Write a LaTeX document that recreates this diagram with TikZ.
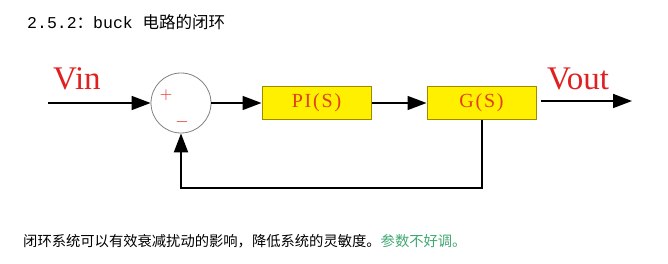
\documentclass[tikz,border=0pt]{standalone}
\usepackage{fontspec}
\setmainfont{Liberation Serif}
\newfontfamily\cjk{Noto Sans CJK SC}
\newfontfamily\monolatin{Liberation Mono}
\newfontfamily\blockfont[LetterSpace=9]{Liberation Serif}
\usetikzlibrary{arrows.meta}
\definecolor{boxfill}{HTML}{FFF000}
\definecolor{boxedge}{HTML}{A08A00}
\definecolor{boxtext}{HTML}{E2401A}
\definecolor{sigred}{HTML}{E02020}
\definecolor{notegreen}{HTML}{3FA870}
\tikzset{
  flow/.style={line width=1.6pt, -{Triangle[length=19pt,width=14pt]}},
  feedback/.style={line width=2pt, -{Triangle[length=19pt,width=14pt]}},
  block/.style={draw=boxedge, line width=1pt, fill=boxfill, minimum width=109pt,
    minimum height=33pt, inner sep=0pt, text=boxtext, font=\blockfont\fontsize{20}{20}\selectfont},
  summer/.style={circle, draw=gray, line width=0.8pt, minimum size=60pt, inner sep=0pt},
  signal/.style={text=sigred, font=\fontsize{33}{33}\selectfont, inner sep=0pt},
  sign/.style={text=sigred, font=\fontsize{18}{18}\selectfont, inner sep=0pt},
}
\begin{document}
\begin{tikzpicture}[x=1pt, y=-1pt]
  \path[use as bounding box] (0,0) rectangle (668,264);

  % heading
  \node[anchor=base west, inner sep=0pt, font=\fontsize{16.5}{16.5}\selectfont] (title) at (27,29)
    {\monolatin 2.5.2\cjk ：\monolatin buck \cjk 电路的闭环};

  % blocks
  \node[summer] (sum) at (181,103) {};
  \node[sign] (plus) at (166,95) {$+$};
  \node[sign] (minus) at (182,122) {$-$};
  \node[block] (pi) at (316.5,103) {PI(S)};
  \node[block] (g) at (481.5,103) {G(S)};

  % signal labels
  \node[signal, anchor=base west] (vin) at (53,90) {Vin};
  \node[signal, anchor=base west] (vout) at (547,90) {Vout};

  % connections
  \coordinate (in) at (48,103);
  \coordinate (outstart) at (541,101);
  \coordinate (outend) at (632,101);
  \draw[flow] (in) -- (sum.west);
  \draw[flow] (sum.east) -- (pi.west);
  \draw[flow] (pi.east) -- (g.west);
  \draw[flow] (outstart) -- (outend);
  \draw[feedback] (g.south) -- ++(0,68.5) -| (sum.south);

  % remark
  \node[anchor=base west, inner sep=0pt, font=\cjk\fontsize{14.3}{14.3}\selectfont] (note) at (23,246)
    {闭环系统可以有效衰减扰动的影响，降低系统的灵敏度。\textcolor{notegreen}{参数不好调。}};
\end{tikzpicture}
\end{document}
